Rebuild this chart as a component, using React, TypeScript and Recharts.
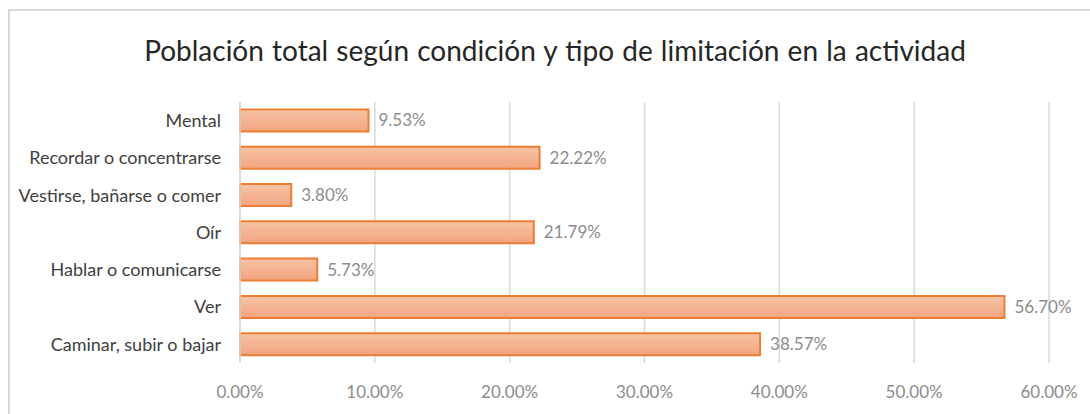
import React from "react";
import { BarChart, Bar, XAxis, YAxis, CartesianGrid, LabelList } from "recharts";

const categories = [
  "Mental",
  "Recordar o concentrarse",
  "Vestirse, bañarse o comer",
  "Oír",
  "Hablar o comunicarse",
  "Ver",
  "Caminar, subir o bajar",
];
const values = [9.53, 22.22, 3.8, 21.79, 5.73, 56.7, 38.57];
const xTicks = [0, 10, 20, 30, 40, 50, 60];
const title = "Población total según condición y tipo de limitación en la actividad";

const data = categories.map((c, i) => ({ name: c, value: values[i] }));

const FONT = "Lato, 'Noto Sans', sans-serif";

export default function App() {
  return (
    <div style={{ position: "absolute", left: 0, top: 0, width: 1090, height: 414, background: "#fff", overflow: "hidden", fontFamily: FONT }}>
      <div style={{ position: "absolute", left: 8, top: 9, width: 1100, height: 420, borderTop: "2px solid #d9d9d9", borderLeft: "2px solid #d9d9d9" }} />
      <div style={{ position: "absolute", left: 0, width: 1110, top: 32, textAlign: "center", fontSize: 28, color: "#262626", lineHeight: "36px", whiteSpace: "nowrap", wordSpacing: 1 }}>
        {title}
      </div>
      <div style={{ position: "absolute", left: 0, top: 0 }}>
        <BarChart
          width={1090}
          height={414}
          data={data}
          layout="vertical"
          margin={{ top: 102, right: 41, bottom: 21, left: 0 }}
          barCategoryGap="20%"
        >
          <defs>
            <linearGradient id="barGrad" x1="0" y1="0" x2="0" y2="1">
              <stop offset="0%" stopColor="#F7C4A6" />
              <stop offset="100%" stopColor="#F2A47E" />
            </linearGradient>
          </defs>
          <CartesianGrid horizontal={false} vertical stroke="#d9d9d9" strokeWidth={1.5} />
          <XAxis
            type="number"
            domain={[0, 60]}
            ticks={xTicks}
            tickFormatter={(v: number) => `${v.toFixed(2)}%`}
            axisLine={false}
            tickLine={false}
            tickSize={6}
            tickMargin={17}
            height={30}
            interval={0}
            tick={{ fill: "#8c8c8c", fontSize: 17, fontFamily: FONT }}
          />
          <YAxis
            type="category"
            dataKey="name"
            width={240}
            axisLine={{ stroke: "#d9d9d9", strokeWidth: 1.5 }}
            tickLine={false}
            tickSize={6}
            tickMargin={13}
            interval={0}
            tick={{ fill: "#404040", fontSize: 18, fontFamily: FONT }}
          />
          <Bar dataKey="value" fill="url(#barGrad)" stroke="#ED7D31" strokeWidth={2} isAnimationActive={false}>
            <LabelList
              dataKey="value"
              position="right"
              offset={10}
              formatter={(v: number) => `${Number(v).toFixed(2)}%`}
              style={{ fill: "#8c8c8c", fontSize: 17, fontFamily: FONT }}
            />
          </Bar>
        </BarChart>
      </div>
    </div>
  );
}
